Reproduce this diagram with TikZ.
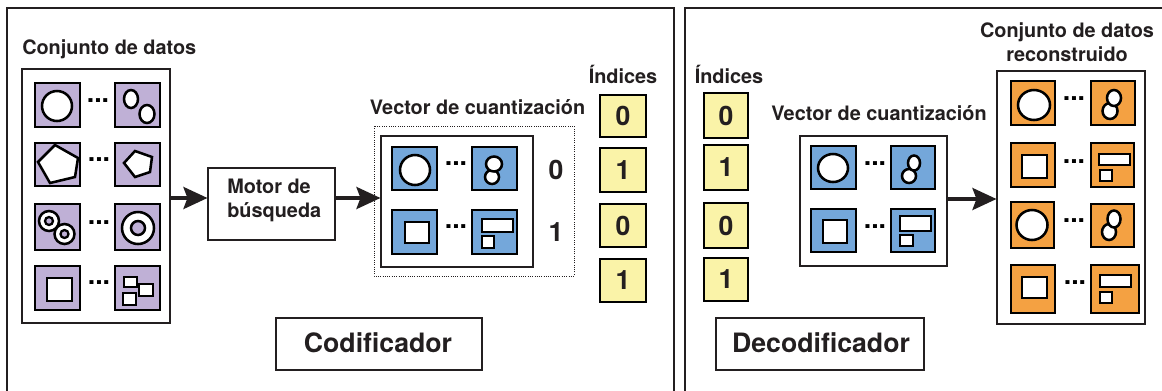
\documentclass[tikz,border=0pt]{standalone}
\usepackage{fontspec}
\setmainfont{TeX Gyre Heros}
\usetikzlibrary{arrows.meta}
\definecolor{ink}{HTML}{231F20}
\definecolor{purp}{HTML}{BFB0D6}
\definecolor{blu}{HTML}{74A7DA}
\definecolor{org}{HTML}{F4A142}
\definecolor{yel}{HTML}{FAF3A8}
\tikzset{
  frame/.style={draw=ink,line width=2pt},
  box/.style={draw=ink,line width=1.8pt,fill=white},
  tile/.style={draw=black,line width=2pt},
  hole/.style={draw=black,line width=1.9pt,fill=white},
  lab/.style={font=\bfseries\fontsize{14.9}{18}\selectfont,text=ink,inner sep=0pt,align=center},
  num/.style={font=\bfseries\fontsize{20}{22}\selectfont,text=ink,inner sep=0pt},
  big/.style={font=\bfseries\fontsize{20}{22}\selectfont,text=ink,inner sep=0pt},
  dotsn/.style={font=\bfseries\fontsize{20}{20}\selectfont,text=black,inner sep=0pt},
  flow/.style={draw=ink,line width=2.6pt,-{Stealth[length=18pt,width=16.5pt,inset=3pt]},shorten >=-0.5pt},
  idx/.style={draw=black,line width=2pt,fill=yel}
}
\newcommand{\tl}[5]{\path[tile,fill=#5] (#1,#2) rectangle (#3,#4);}
\newcommand{\idxbox}[6]{\path[idx] (#2,#3) rectangle (#4,#5);
  \node[num] (#1) at ({(#2+#4)/2},{(#3+#5)/2}) {#6};}
\newcommand{\dd}[3]{\node[dotsn] (#1) at (#2,#3-5) {...};}
\begin{document}
\begin{tikzpicture}[x=0.75pt,y=-0.75pt]
\useasboundingbox (0,0) rectangle (1162,390);
\fill[white] (0,0) rectangle (1162,390);
% outer frames
\draw[frame] (7,395) -- (7,8) -- (674,8) -- (674,395);
\draw[frame] (685,395) -- (685,8) -- (1167,8);
% === encoder: data set
\node[lab,anchor=base west] (t1) at (22,54) {Conjunto de datos};
\node[box,minimum width=111pt,minimum height=190.5pt,inner sep=0pt] (set) at (96,196) {};
\tl{35}{83}{80}{127}{purp}
\tl{115}{83}{160}{127}{purp}
\tl{35}{143}{80}{186}{purp}
\tl{115}{143}{160}{186}{purp}
\tl{35}{204}{80}{250}{purp}
\tl{115}{204}{160}{250}{purp}
\tl{35}{266}{80}{310}{purp}
\tl{115}{266}{160}{310}{purp}
\dd{d1}{98}{106}\dd{d2}{99}{165}\dd{d3}{99}{228}\dd{d4}{99}{288}
\path[hole] (57,106) circle (15);
\path[hole] (131,99) ellipse (7 and 9);
\path[hole] (147,114) ellipse (7.5 and 9);
\path[hole] (38,162) -- (55,145) -- (78,158) -- (75,177) -- (50,183) -- cycle;
\path[hole] (124,163) -- (135,151) -- (152,157) -- (150,172) -- (135,177) -- cycle;
\path[hole] (49,221) circle (10);
\path[draw=black,line width=1.7pt,fill=purp] (49,221) circle (4);
\path[hole] (64.5,234) circle (10);
\path[draw=black,line width=1.7pt,fill=purp] (64.5,234) circle (4);
\path[hole] (138,228) circle (16);
\path[draw=black,line width=1.9pt,fill=purp] (138,228) circle (7);
\path[hole] (47,278) rectangle (72,301);
\path[hole] (124,277) rectangle (137,287);
\path[hole] (139,284) rectangle (153,296);
\path[hole] (123,293) rectangle (136,305);
% === engine
\node[box,minimum width=95.25pt,minimum height=54pt,inner sep=0pt] (eng) at (271.5,204) {};
\node[lab,align=left,anchor=west] (englab) at (227,200.5) {Motor de\\búsqueda};
% === encoder: vector
\node[lab] (t2) at (477.5,107.5) {Vector de cuantización};
\draw[ink,line width=0.7pt,densely dotted] (374,126) rectangle (574,276);
\node[box,minimum width=114pt,minimum height=98.25pt,inner sep=0pt] (vq) at (457,201.5) {};
\tl{392}{147}{437}{190}{blu}
\tl{472}{147}{517}{190}{blu}
\tl{392}{210}{437}{254}{blu}
\tl{472}{210}{517}{254}{blu}
\dd{d5}{456}{169}\dd{d6}{456}{232}
\path[hole] (415,170) circle (15);
\path[hole] (492,177) ellipse (7 and 7);
\path[hole] (494,164) ellipse (8 and 7.5);
\path[hole] (405,222) rectangle (429,243);
\path[hole] (482,219) rectangle (513,232);
\path[hole] (482,236) rectangle (494,248);
\node[num] (n0) at (556,170) {0};
\node[num] (n1) at (556,232) {1};
% indices encoder
\node[lab,anchor=base] (t3) at (623,83) {Índices};
\idxbox{i1}{600}{95}{646}{137}{0}
\idxbox{i2}{600}{148}{646}{192}{1}
\idxbox{i3}{600}{204}{646}{247}{0}
\idxbox{i4}{600}{259}{646}{302}{1}
% === label boxes
\node[box,minimum width=154.5pt,minimum height=39pt,inner sep=0pt] (cod) at (379,344) {};
\node[big] (codl) at (378,343) {Codificador};
\node[box,minimum width=156pt,minimum height=39pt,inner sep=0pt] (dec) at (820,344) {};
\node[big] (decl) at (821,343) {Decodificador};
% === decoder: indices
\node[lab,anchor=base] (t4) at (729,83) {Índices};
\idxbox{j1}{704}{93}{748}{138}{0}
\idxbox{j2}{704}{145}{748}{190}{1}
\idxbox{j3}{704}{203}{748}{248}{0}
\idxbox{j4}{704}{258}{748}{301}{1}
% decoder vector
\node[lab] (t5) at (879,113.5) {Vector de cuantización};
\node[box,minimum width=110.25pt,minimum height=97.5pt,inner sep=0pt] (vd) at (873.5,201) {};
\tl{811}{146}{856}{189}{blu}
\tl{891}{146}{935}{189}{blu}
\tl{811}{209}{856}{252}{blu}
\tl{891}{209}{935}{252}{blu}
\dd{d7}{875}{169}\dd{d8}{875}{232}
\path[hole] (833,168) ellipse (15 and 14);
\path[hole] (909,176) ellipse (7 and 7);
\path[hole] (914,163) ellipse (6 and 7.5);
\path[hole] (823,220) rectangle (847,243);
\path[hole] (900,216) rectangle (931,231);
\path[hole] (900,235) rectangle (913,246);
% === reconstructed
\node[lab] (t6) at (1067,42) {Conjunto de datos\\reconstruido};
\node[box,minimum width=111pt,minimum height=189.75pt,inner sep=0pt] (rec) at (1071,197.5) {};
\tl{1011}{81}{1055}{125}{org}
\tl{1091}{81}{1135}{125}{org}
\tl{1011}{143}{1055}{187}{org}
\tl{1091}{143}{1134}{187}{org}
\tl{1011}{202}{1054}{248}{org}
\tl{1091}{204}{1134}{247}{org}
\tl{1011}{265}{1055}{313}{org}
\tl{1091}{265}{1139}{313}{org}
\dd{d9}{1074}{104}\dd{d10}{1074}{167}\dd{d11}{1074}{226}\dd{d12}{1075}{288}
\path[hole] (1034,105) ellipse (16 and 15);
\path[hole] (1110,111) ellipse (7.5 and 8);
\path[hole] (1114,98) ellipse (7 and 8);
\path[hole] (1022,155) rectangle (1047,178);
\path[hole] (1099,154) rectangle (1130,165);
\path[hole] (1100,170) rectangle (1112,181);
\path[hole] (1032,225) ellipse (15.5 and 15);
\path[hole] (1109,232) ellipse (7 and 8);
\path[hole] (1114,219) ellipse (6.5 and 8.5);
\path[hole] (1022,277) rectangle (1047,298);
\path[hole] (1100,275) rectangle (1131,287);
\path[hole] (1100,292) rectangle (1112,303);
% === connectors
\draw[flow] (set.east |- 0,198) -- (eng.west |- 0,198);
\draw[flow] (eng.east |- 0,198) -- (vq.west |- 0,198);
\draw[flow] (vd.east |- 0,199) -- (rec.west |- 0,199);
\end{tikzpicture}
\end{document}
